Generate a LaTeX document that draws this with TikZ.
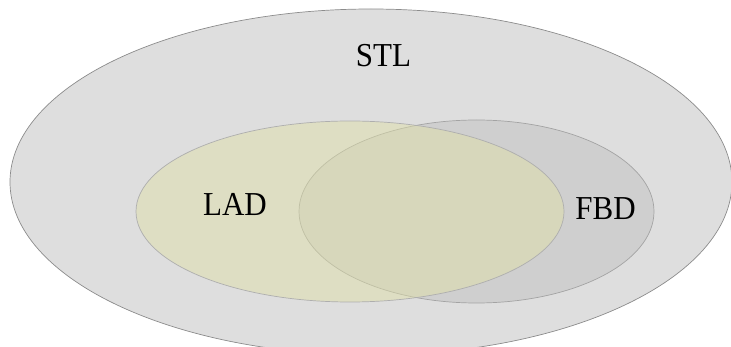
\documentclass[tikz,border=0pt]{standalone}
\usepackage{fontspec}
\setmainfont{Liberation Serif}
\usepackage{tikz}
\usetikzlibrary{positioning}

\definecolor{stlfill}{HTML}{DEDEDE}
\definecolor{ladfill}{HTML}{E0E0A6}
\definecolor{fbdfill}{HTML}{CFCFCF}
\definecolor{rimgray}{HTML}{8C8C8C}

\tikzset{
    setlabel/.style={font=\fontsize{31}{36}\selectfont, text=black, inner sep=0pt, yscale=1.08}
}

\begin{document}
\begin{tikzpicture}[x=1pt, y=-1pt]
    \useasboundingbox (0,0) rectangle (731,347);
    % outer set
    \draw[rimgray, line width=0.7pt, fill=stlfill] (371,182) ellipse [x radius=361, y radius=173];
    % FBD
    \draw[rimgray!80, line width=0.7pt, fill=fbdfill] (476.5,211.5) ellipse [x radius=177.5, y radius=91.5];
    % LAD (see-through)
    \draw[rimgray!70, line width=0.7pt, fill=ladfill, fill opacity=0.47] (350,211.5) ellipse [x radius=214, y radius=90.5];

    \node[setlabel] (stl) at (383.5,56) {STL};
    \node[setlabel] (lad) at (235,204) {LAD};
    \node[setlabel] (fbd) at (605.5,208.5) {FBD};
\end{tikzpicture}
\end{document}
